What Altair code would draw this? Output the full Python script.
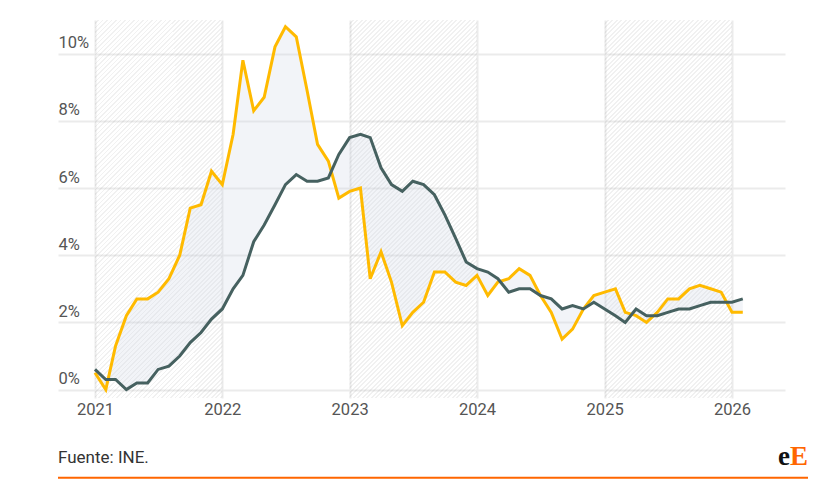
import altair as alt
import pandas as pd

# ---- data ----
months = [f"{y}/{m:02d}/01" for y in range(2021, 2027) for m in range(1, 13)][:62]

ipc_general = [
    0.5, 0.0, 1.3, 2.2, 2.7, 2.7, 2.9, 3.3, 4.0, 5.4, 5.5, 6.5,
    6.1, 7.6, 9.8, 8.3, 8.7, 10.2, 10.8, 10.5, 8.9, 7.3, 6.8, 5.7,
    5.9, 6.0, 3.3, 4.1, 3.2, 1.9, 2.3, 2.6, 3.5, 3.5, 3.2, 3.1,
    3.4, 2.8, 3.2, 3.3, 3.6, 3.4, 2.8, 2.3, 1.5, 1.8, 2.4, 2.8,
    2.9, 3.0, 2.3, 2.2, 2.0, 2.3, 2.7, 2.7, 3.0, 3.1, 3.0, 2.9,
    2.3, 2.3,
]
ipc_subyacente = [
    0.6, 0.3, 0.3, 0.0, 0.2, 0.2, 0.6, 0.7, 1.0, 1.4, 1.7, 2.1,
    2.4, 3.0, 3.4, 4.4, 4.9, 5.5, 6.1, 6.4, 6.2, 6.2, 6.3, 7.0,
    7.5, 7.6, 7.5, 6.6, 6.1, 5.9, 6.2, 6.1, 5.8, 5.2, 4.5, 3.8,
    3.6, 3.5, 3.3, 2.9, 3.0, 3.0, 2.8, 2.7, 2.4, 2.5, 2.4, 2.6,
    2.4, 2.2, 2.0, 2.4, 2.2, 2.2, 2.3, 2.4, 2.4, 2.5, 2.6, 2.6,
    2.6, 2.7,
]
band_start = ["2021/01/01", "2023/01/01", "2025/01/01"]
band_end = ["2022/01/01", "2024/01/01", "2026/01/01"]
y_ticks = [0, 2, 4, 6, 8, 10]
source_text = ["Fuente: INE."]

df = pd.DataFrame({"fecha": months, "general": ipc_general, "subyacente": ipc_subyacente})
bands = pd.DataFrame({"ini": band_start, "fin": band_end})

W, H = 727, 378
YELLOW = "#ffba00"
DARK = "#466160"
ORANGE = "#ff6600"
FONT = "Roboto"

# diagonal hatch as a striped linear gradient (objectBoundingBox units)
bw, bh = 127.3, H
k = (bw + bh) / (bw ** 2 + bh ** 2)
period = 4.5 / (bw + bh)
STRIPE = "rgba(0,0,0,0.055)"
CLEAR = "rgba(0,0,0,0)"
stops = []
i = 0
while i * period < 1.0:
    a = i * period
    b = min(a + 0.62 * period, 1.0)
    c = min((i + 1) * period, 1.0)
    stops += [
        alt.GradientStop(color=CLEAR, offset=a),
        alt.GradientStop(color=CLEAR, offset=b),
        alt.GradientStop(color=STRIPE, offset=b),
        alt.GradientStop(color=STRIPE, offset=c),
    ]
    i += 1
hatch = alt.Gradient(gradient="linear", stops=stops, x1=0, y1=0,
                     x2=round(k * bw, 4), y2=round(k * bh, 4))

x_scale = alt.Scale(domain=[alt.DateTime(year=2020, month=9, date=17),
                            alt.DateTime(year=2026, month=6, date=2)])
y_scale = alt.Scale(domain=[-0.25, 11], nice=False, zero=False)

x_axis = alt.Axis(format="%Y", tickCount={"interval": "year", "step": 1},
                  grid=True, gridColor="#ebebeb", gridWidth=2,
                  domain=False, ticks=False, labelPadding=3,
                  labelFontSize=16.5, labelColor="#555555", labelFont=FONT,
                  title=None)
y_axis = alt.Axis(values=y_ticks, labelExpr="datum.value + '%'",
                  grid=True, gridColor="#ebebeb", gridWidth=2,
                  domain=False, ticks=False, tickSize=0, labelPadding=0,
                  labelAlign="left", labelBaseline="alphabetic", labelOffset=-6,
                  labelFontSize=16.5, labelColor="#555555", labelFont=FONT,
                  title=None)

base = alt.Chart(df)

hatch_layer = alt.Chart(bands).mark_rect(fill=hatch).encode(
    x=alt.X("ini:T", scale=x_scale, axis=x_axis),
    x2="fin:T",
    y=alt.value(0),
    y2=alt.value(H),
)

area = base.mark_area(color="#d0d9e6", opacity=0.28).encode(
    x=alt.X("fecha:T", scale=x_scale),
    y=alt.Y("general:Q", scale=y_scale, axis=y_axis),
    y2="subyacente:Q",
)

line_gen = base.mark_line(color=YELLOW, strokeWidth=3).encode(
    x=alt.X("fecha:T", scale=x_scale),
    y=alt.Y("general:Q", scale=y_scale),
)
line_sub = base.mark_line(color=DARK, strokeWidth=3).encode(
    x=alt.X("fecha:T", scale=x_scale),
    y=alt.Y("subyacente:Q", scale=y_scale),
)

src = alt.Chart(pd.DataFrame({"t": source_text})).mark_text(
    align="left", baseline="alphabetic", font=FONT, fontSize=17, color="#333333"
).encode(text="t:N", x=alt.value(0), y=alt.value(443))

rule = alt.Chart(pd.DataFrame({"t": source_text})).mark_rule(
    color=ORANGE, strokeWidth=2
).encode(x=alt.value(0), x2=alt.value(750), y=alt.value(457.7))

logo_e = alt.Chart(pd.DataFrame({"t": ["e"]})).mark_text(
    align="right", baseline="alphabetic", font="Liberation Serif",
    fontWeight="bold", fontSize=27, color="#111111"
).encode(text="t:N", x=alt.value(732), y=alt.value(445))
logo_E = alt.Chart(pd.DataFrame({"t": ["E"]})).mark_text(
    align="left", baseline="alphabetic", font="Liberation Serif",
    fontWeight="bold", fontSize=27, color=ORANGE
).encode(text="t:N", x=alt.value(732), y=alt.value(445))

chart = alt.layer(
    hatch_layer, area, line_gen, line_sub, src, rule, logo_e, logo_E
).properties(
    width=W, height=H,
    autosize=alt.AutoSizeParams(type="none"),
    padding={"left": 50, "top": 12, "right": 30, "bottom": 82},
    background="white",
).configure_view(stroke=None)

chart.save("out.html", embed_options={"renderer": "svg", "actions": False})
